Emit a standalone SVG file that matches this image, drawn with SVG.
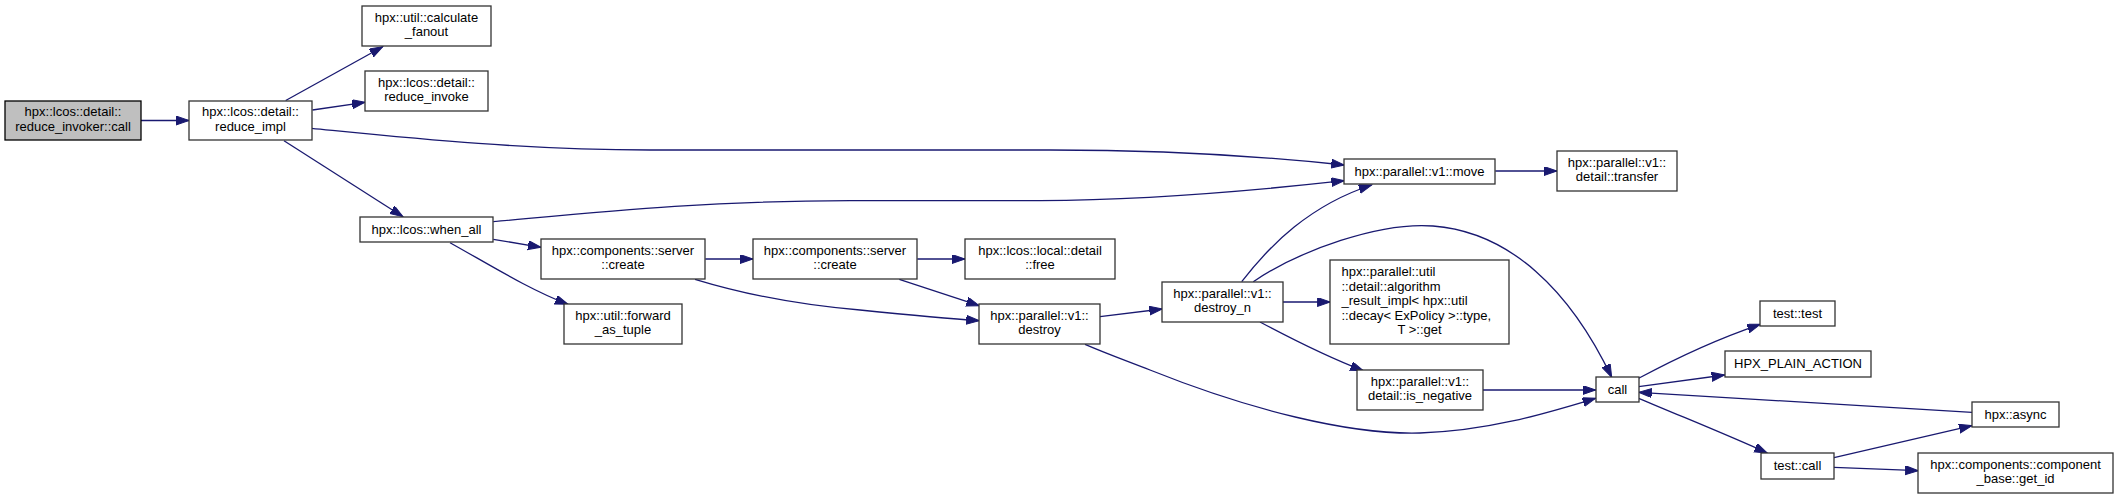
<svg xmlns="http://www.w3.org/2000/svg" width="2119" height="500" viewBox="0 0 2119 500">
<style>
.n rect{fill:#ffffff;stroke:#333333;stroke-width:1.3}
.root rect{fill:#bfbfbf;stroke:#000000;stroke-width:1.3}
text{font-family:"Liberation Sans",Arial,sans-serif;font-size:13px;fill:#000000;text-anchor:middle}
.l{text-anchor:start}
#edges path{fill:none;stroke:#191970;stroke-width:1.3;marker-end:url(#arr)}
</style>
<defs>
<marker id="arr" markerUnits="userSpaceOnUse" markerWidth="16" markerHeight="12" refX="13" refY="4.5" orient="auto">
<path d="M0,0 L13,4.5 L0,9 z" fill="#191970" stroke="#191970" stroke-width="1"/>
</marker>
</defs>
<rect width="2119" height="500" fill="#ffffff"/>
<g id="edges">
<path d="M141,120.5 L189,120.5"/>
<path d="M285.7,100.5 L382.7,46.7"/>
<path d="M312.5,110 L365,102.3"/>
<path d="M311.6,128.3 C400,137 520,150 650,150 L1050,150 C1180,150 1270,157 1344.3,165"/>
<path d="M284,140.7 L403,216.7"/>
<path d="M493.3,221.7 C600,212 700,201 850,200.7 L1040,200.7 C1150,200 1260,190 1344.3,180.7"/>
<path d="M493.3,239.3 L541,247.3"/>
<path d="M450,242.7 C490,265 530,290 568,304.3"/>
<path d="M705.3,259 L753,259"/>
<path d="M695,279.3 C740,293 800,305 860,310 C900,314 940,318 979.3,320.7"/>
<path d="M917.3,259 L965,259"/>
<path d="M899.3,279.3 L979.3,305.7"/>
<path d="M1100,316.7 L1162.3,309"/>
<path d="M1085,344.3 C1110,355 1130,362 1150,370 C1250,410 1350,435 1420,433 C1490,431 1550,412 1595.7,398.3"/>
<path d="M1241.7,281.7 C1270,245 1310,205 1371.7,185"/>
<path d="M1253.3,281.7 C1300,250 1380,222 1433,226 C1510,232 1570,290 1611.7,377.3"/>
<path d="M1282.7,302 L1330.3,302"/>
<path d="M1260,322 C1290,338 1330,358 1363.3,370.7"/>
<path d="M1482.7,390 L1595.7,390"/>
<path d="M1495.3,171 L1557,171"/>
<path d="M1638.7,378.3 C1680,356 1720,338 1760.3,324.3"/>
<path d="M1638.7,386.7 L1724.7,375"/>
<path d="M1972,412.3 L1638.7,392.3"/>
<path d="M1638.7,398.3 C1690,420 1730,436 1767.3,453"/>
<path d="M1834,457.7 L1972,425.7"/>
<path d="M1834,467.3 L1918.3,470.7"/>
</g>
<g id="node_reduce_invoker_call" class="root"><rect x="5" y="101" width="136" height="39"/><text x="73" y="116">hpx::lcos::detail::</text><text x="73" y="130.5">reduce_invoker::call</text></g>
<g id="node_reduce_impl" class="n"><rect x="189" y="101" width="123" height="39"/><text x="250.5" y="116">hpx::lcos::detail::</text><text x="250.5" y="130.5">reduce_impl</text></g>
<g id="node_calculate_fanout" class="n"><rect x="362" y="6" width="129" height="40"/><text x="426.5" y="21.5">hpx::util::calculate</text><text x="426.5" y="36">_fanout</text></g>
<g id="node_reduce_invoke" class="n"><rect x="365" y="71" width="123" height="40"/><text x="426.5" y="86.5">hpx::lcos::detail::</text><text x="426.5" y="101">reduce_invoke</text></g>
<g id="node_when_all" class="n"><rect x="360" y="217" width="133" height="25"/><text x="426.5" y="233.5">hpx::lcos::when_all</text></g>
<g id="node_server_create_1" class="n"><rect x="541" y="239" width="164" height="40"/><text x="623" y="254.5">hpx::components::server</text><text x="623" y="269">::create</text></g>
<g id="node_server_create_2" class="n"><rect x="753" y="239" width="164" height="40"/><text x="835" y="254.5">hpx::components::server</text><text x="835" y="269">::create</text></g>
<g id="node_local_detail_free" class="n"><rect x="965" y="239" width="150" height="40"/><text x="1040" y="254.5">hpx::lcos::local::detail</text><text x="1040" y="269">::free</text></g>
<g id="node_forward_as_tuple" class="n"><rect x="564" y="304" width="118" height="40"/><text x="623" y="319.5">hpx::util::forward</text><text x="623" y="334">_as_tuple</text></g>
<g id="node_destroy" class="n"><rect x="979" y="304" width="121" height="40"/><text x="1039.5" y="319.5">hpx::parallel::v1::</text><text x="1039.5" y="334">destroy</text></g>
<g id="node_move" class="n"><rect x="1344" y="159" width="151" height="25"/><text x="1419.5" y="175.5">hpx::parallel::v1::move</text></g>
<g id="node_transfer" class="n"><rect x="1557" y="151" width="120" height="40"/><text x="1617" y="166.5">hpx::parallel::v1::</text><text x="1617" y="181">detail::transfer</text></g>
<g id="node_destroy_n" class="n"><rect x="1162" y="282" width="121" height="40"/><text x="1222.5" y="297.5">hpx::parallel::v1::</text><text x="1222.5" y="312">destroy_n</text></g>
<g id="node_algorithm_result_impl" class="n"><rect x="1330" y="260" width="179" height="84"/><text class="l" x="1341.5" y="276">hpx::parallel::util</text><text class="l" x="1341.5" y="290.5">::detail::algorithm</text><text class="l" x="1341.5" y="305">_result_impl&lt; hpx::util</text><text class="l" x="1341.5" y="319.5">::decay&lt; ExPolicy &gt;::type,</text><text x="1419.5" y="334">T &gt;::get</text></g>
<g id="node_is_negative" class="n"><rect x="1357" y="370" width="126" height="40"/><text x="1420" y="385.5">hpx::parallel::v1::</text><text x="1420" y="400">detail::is_negative</text></g>
<g id="node_call" class="n"><rect x="1596" y="377" width="43" height="25"/><text x="1617.5" y="393.5">call</text></g>
<g id="node_test_test" class="n"><rect x="1760" y="301" width="75" height="25"/><text x="1797.5" y="317.5">test::test</text></g>
<g id="node_HPX_PLAIN_ACTION" class="n"><rect x="1725" y="351" width="146" height="26"/><text x="1798" y="368">HPX_PLAIN_ACTION</text></g>
<g id="node_hpx_async" class="n"><rect x="1972" y="402" width="87" height="25"/><text x="2015.5" y="418.5">hpx::async</text></g>
<g id="node_test_call" class="n"><rect x="1761" y="453" width="73" height="26"/><text x="1797.5" y="470">test::call</text></g>
<g id="node_get_id" class="n"><rect x="1918" y="453" width="195" height="40"/><text x="2015.5" y="468.5">hpx::components::component</text><text x="2015.5" y="483">_base::get_id</text></g>
</svg>
